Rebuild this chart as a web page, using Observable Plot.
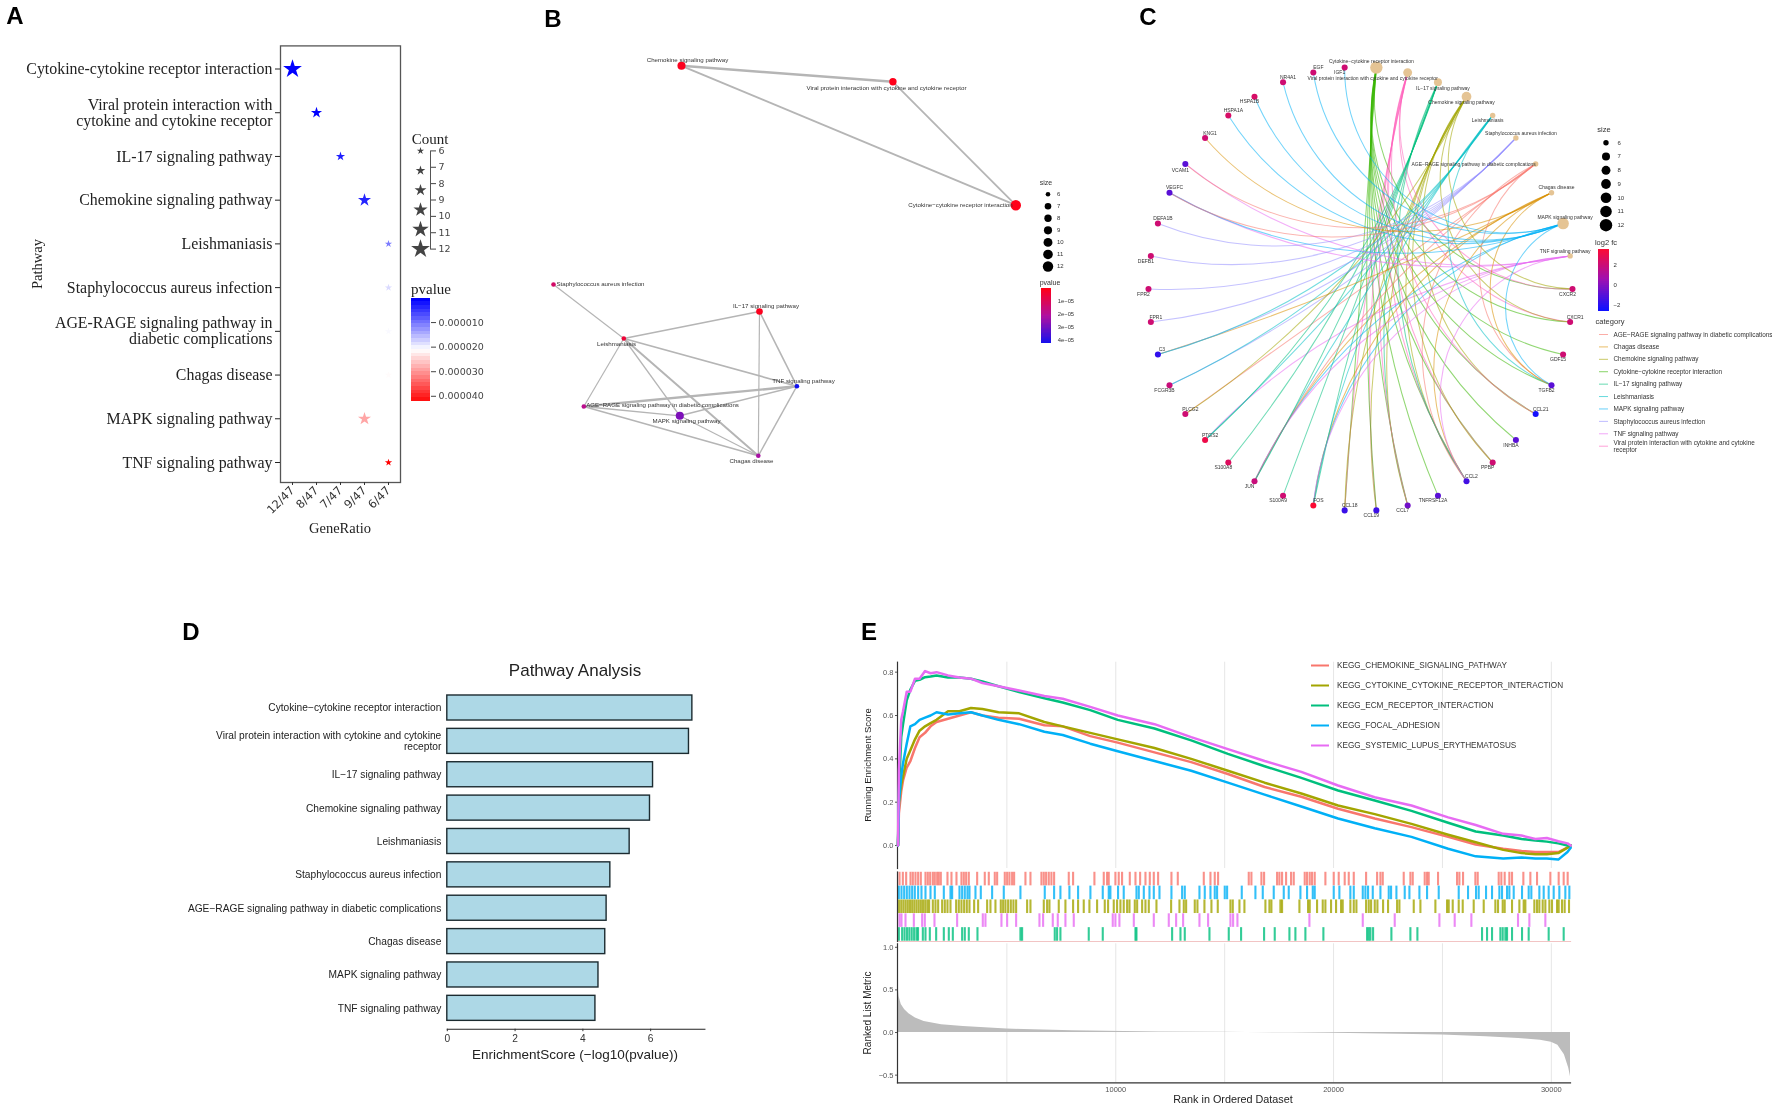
<!DOCTYPE html>
<html><head><meta charset="utf-8">
<script src="https://cdn.jsdelivr.net/npm/d3@7"></script>
<script src="https://cdn.jsdelivr.net/npm/@observablehq/plot@0.6"></script>
<style>
html,body{margin:0;padding:0;background:#fff}
#page{position:relative;width:1772px;height:1118px;overflow:hidden;filter:blur(.45px)}
.t{position:absolute;white-space:nowrap;transform:translate(-50%,-50%);color:#222}
</style></head><body><div id="page"></div>
<script>
// ---------- shared categories ----------
const pathways = ["Cytokine-cytokine receptor interaction","Viral protein interaction with cytokine and cytokine receptor","IL-17 signaling pathway","Chemokine signaling pathway","Leishmaniasis","Staphylococcus aureus infection","AGE-RAGE signaling pathway in diabetic complications","Chagas disease","MAPK signaling pathway","TNF signaling pathway"];
// ---------- panel A ----------
const dotLabels = ["Cytokine-cytokine receptor interaction","Viral protein interaction with\ncytokine and cytokine receptor","IL-17 signaling pathway","Chemokine signaling pathway","Leishmaniasis","Staphylococcus aureus infection","AGE-RAGE signaling pathway in\ndiabetic complications","Chagas disease","MAPK signaling pathway","TNF signaling pathway"];
const geneRatio = ["12/47","8/47","7/47","9/47","6/47","6/47","6/47","6/47","9/47","6/47"];
const ratioOrder = ["12/47","8/47","7/47","9/47","6/47"];
const counts = [12,8,7,9,6,6,6,6,9,6];
const dotPvalue = [5.9e-8,7.4e-8,2.5e-6,3e-6,1e-5,1.75e-5,2e-5,2.08e-5,2.8e-5,4.2e-5];
const countTicks = [6,7,8,9,10,11,12];
const countStars = [6,7.2,8.4,9.6,10.8,12];
const pTicks = [1e-5,2e-5,3e-5,4e-5];
// ---------- panel B ----------
const netNames = ["Chemokine signaling pathway","Viral protein interaction with cytokine and cytokine receptor","Cytokine\u2212cytokine receptor interaction","Staphylococcus aureus infection","IL\u221217 signaling pathway","Leishmaniasis","TNF signaling pathway","AGE\u2212RAGE signaling pathway in diabetic complications","MAPK signaling pathway","Chagas disease"];
const netX = [681,892.4,1015.3,553,759,623.3,796.4,583.3,679.3,757.8];
const netY = [65.3,81.3,204.7,284,311,338,385.7,406,415.3,455.3];
const netLabelX = [687,886,960,600,765.5,616,803,662,686,751];
const netLabelY = [59.7,87.7,205,284,305.3,343.3,380.3,404.3,421,461];
const netSize = [9,8,12,6,7,6,6,6,9,6];
const netPvalue = [1e-6,1e-7,1e-7,1.2e-5,8.5e-7,5e-6,4.3e-5,1.8e-5,2.8e-5,2.2e-5];
const edgeFrom = [0,0,1,3,5,5,5,5,5,4,4,6,6,6,7,7,8];
const edgeTo   = [1,2,2,5,4,6,7,8,9,6,9,7,8,9,8,9,9];
const edgeWidth= [2.6,2,1.8,1.2,1.6,1.7,1.2,1.3,2,1.6,1.2,2.4,1.5,1.4,1.3,1.5,1.2];
const sizeTicks = [6,7,8,9,10,11,12];
// ---------- panel C ----------
const cnetCategories = ["Cytokine\u2212cytokine receptor interaction","Viral protein interaction with cytokine and cytokine receptor","IL\u221217 signaling pathway","Chemokine signaling pathway","Leishmaniasis","Staphylococcus aureus infection","AGE\u2212RAGE signaling pathway in diabetic complications","Chagas disease","MAPK signaling pathway","TNF signaling pathway"];
const cnetSizes = [12,8,7,9,6,6,6,6,11,6];
const genes = ["CXCR2","CXCR1","GDF15","TGFB2","CCL21","INHBA","PPBP","CCL2","TNFRSF12A","CCL7","CCL19","CCL18","FOS","S100A9","JUN","S100A8","PTGS2","PLCG2","FCGR3B","C3","FPR1","FPR2","DEFB1","DEFA1B","VEGFC","VCAM1","KNG1","HSPA1A","HSPA1B","NR4A1","EGF","IGF1"];
const geneFc = [2,2,2,-1,-2.5,-1,2,-1.5,-1,-.5,-1.6,-1.7,3.5,2,1.8,2.5,3,2,1.8,-1.9,2,2,2,2,-1,-1,2,2.3,2.3,2,2,2];
const membership = {
  "Cytokine\u2212cytokine receptor interaction":["CCL2","CCL7","CCL18","CCL19","CCL21","CXCR1","CXCR2","PPBP","GDF15","INHBA","TGFB2","TNFRSF12A"],
  "Viral protein interaction with cytokine and cytokine receptor":["CCL2","CCL7","CCL18","CCL19","CCL21","CXCR1","CXCR2","PPBP"],
  "IL\u221217 signaling pathway":["S100A8","S100A9","FOS","JUN","PTGS2","CCL2","CCL7"],
  "Chemokine signaling pathway":["CCL2","CCL7","CCL18","CCL19","CCL21","CXCR1","CXCR2","PPBP","PLCG2"],
  "Leishmaniasis":["FOS","JUN","PTGS2","FCGR3B","C3","TGFB2"],
  "Staphylococcus aureus infection":["C3","FCGR3B","FPR1","FPR2","DEFB1","DEFA1B"],
  "AGE\u2212RAGE signaling pathway in diabetic complications":["CCL2","JUN","TGFB2","VCAM1","VEGFC","PLCG2"],
  "Chagas disease":["C3","CCL2","FOS","JUN","TGFB2","KNG1"],
  "MAPK signaling pathway":["EGF","IGF1","NR4A1","HSPA1A","HSPA1B","VEGFC","FOS","JUN","TGFB2"],
  "TNF signaling pathway":["CCL2","FOS","JUN","PTGS2","VCAM1","VEGFC"]
};
const legendOrder = ["AGE\u2212RAGE signaling pathway in diabetic complications","Chagas disease","Chemokine signaling pathway","Cytokine\u2212cytokine receptor interaction","IL\u221217 signaling pathway","Leishmaniasis","MAPK signaling pathway","Staphylococcus aureus infection","TNF signaling pathway","Viral protein interaction with cytokine and cytokine receptor"];
const legendText = {"Viral protein interaction with cytokine and cytokine receptor":"Viral protein interaction with cytokine and cytokine\nreceptor"};
const hueColors = ["#F8766D","#D89000","#A3A500","#39B600","#00BF7D","#00BFC4","#00B0F6","#9590FF","#E76BF3","#FF62BC"];
const fcTicks = [-2,0,2];
// label nudges (pixels) around the ring, node order: categories then genes
const nudgeX = [-5,-35,5,-5,-5,5,-62,5,2,-5, -5,5,-5,-5,5,-5,-5,5,-5,-5,-5,5,5,-5,-5,-5,5,5,-5,4,5,-5,-5,5,5,-5,5,5,-5,5,5,-5];
const nudgeY = [-6,6,6,6,5,-5,0,-5,-6,-5, 5,-5,5,5,-5,5,5,-5,5,5,5,-5,-5,5,5,5,-5,-5,5,-5,-5,5,5,-5,-5,6,-5,-5,5,-5,-5,5];
// ---------- panel D ----------
const barLabels = ["Cytokine\u2212cytokine receptor interaction","Viral protein interaction with cytokine and cytokine\nreceptor","IL\u221217 signaling pathway","Chemokine signaling pathway","Leishmaniasis","Staphylococcus aureus infection","AGE\u2212RAGE signaling pathway in diabetic complications","Chagas disease","MAPK signaling pathway","TNF signaling pathway"];
const enrichment = [7.23,7.13,6.07,5.98,5.38,4.81,4.70,4.66,4.46,4.37];
// ---------- panel E ----------
const geneSets = ["KEGG_CHEMOKINE_SIGNALING_PATHWAY","KEGG_CYTOKINE_CYTOKINE_RECEPTOR_INTERACTION","KEGG_ECM_RECEPTOR_INTERACTION","KEGG_FOCAL_ADHESION","KEGG_SYSTEMIC_LUPUS_ERYTHEMATOSUS"];
const setColors = ["#F8766D","#A3A500","#00BF7D","#00B0F6","#E76BF3"];
const esRank = [0,42,148,232,400,569,780,990,1243,1496,1770,2297,2824,3350,3877,4614,5562,6721,7564,8828,10092,11778,13463,15149,16834,18520,20206,21891,23577,25262,26527,27791,28634,29266,29793,30320,30741,30889];
const esChemokine = [0,.15,.25,.30,.36,.39,.45,.50,.52,.55,.57,.585,.60,.615,.60,.59,.585,.555,.55,.505,.475,.43,.385,.33,.27,.225,.17,.125,.085,.04,.005,-.015,-.025,-.03,-.03,-.03,-.01,0];
const esCytokine = [0,.2,.28,.32,.40,.44,.49,.53,.55,.565,.58,.62,.62,.635,.63,.615,.61,.57,.55,.52,.49,.45,.40,.345,.29,.24,.185,.145,.10,.05,.015,-.02,-.035,-.04,-.04,-.035,-.01,0];
const esEcm = [0,.25,.50,.56,.67,.72,.76,.765,.777,.78,.785,.775,.775,.77,.757,.735,.708,.68,.66,.625,.58,.54,.485,.423,.366,.312,.254,.208,.16,.105,.065,.046,.03,.023,.018,.01,0,0];
const esFocal = [0,.2,.32,.38,.47,.55,.56,.58,.59,.60,.615,.605,.61,.615,.60,.58,.56,.525,.51,.47,.435,.39,.345,.29,.235,.18,.125,.08,.04,-.015,-.05,-.06,-.055,-.06,-.06,-.065,-.03,-.01];
const esLupus = [0,.35,.58,.62,.71,.71,.77,.77,.805,.795,.80,.785,.775,.77,.75,.735,.715,.69,.677,.64,.60,.56,.50,.445,.39,.34,.277,.223,.185,.13,.095,.054,.046,.03,.035,.02,.01,0];
const hitsChemokine = [69,222,375,574,681,803,925,1048,1262,1369,1476,1599,1690,1798,1874,1966,2272,2455,2685,2914,3022,3129,3251,3634,3985,4169,4444,4552,4903,5011,5118,5240,5332,5852,6082,6586,6694,6801,6923,7045,7168,7841,8040,9019,9448,9601,9677,9983,10136,10289,10644,10904,11118,11363,11562,11746,11944,12556,12847,14041,14347,14545,14698,16106,16228,16687,16810,17407,17514,17636,17820,18049,18172,18676,18784,18906,19013,19135,19625,20008,20237,20512,20698,20928,21494,22000,22152,22259,23222,23528,23636,24186,24294,24370,24798,25670,25778,25946,26512,26619,27583,27705,27858,28073,28195,28715,29037,29343,29955,30337,30567,30750];
const hitsFocal = [38,160,283,405,528,650,772,925,1078,1262,1492,1690,2104,2410,2486,2823,2945,3067,3190,3282,3557,3802,4322,4857,5622,6739,7168,7458,7871,8269,8835,9402,9677,9753,10105,10365,10950,11057,11287,11547,11746,12006,12556,13046,13168,13842,14086,14347,14545,14652,15004,15112,15785,16412,16749,17253,17713,17942,18478,18784,19045,19135,20008,20267,20772,20928,21341,21463,21585,21800,22152,22534,22641,22886,23268,23483,23942,24294,24829,25747,26175,26543,26665,27002,27277,27614,27736,27966,28073,28272,28654,28960,29082,29450,29649,29878,30108,30367,30643,30827];
const hitsCytokine = [50,150,250,350,450,550,650,750,850,950,1050,1150,1250,1350,1430,1599,1721,1843,2027,2149,2272,2410,2670,2792,2914,3037,3159,3282,3496,3679,4093,4245,4475,4720,4827,4934,5057,5180,5301,5424,5929,6082,6694,6847,6954,7382,7688,8040,8269,8529,8789,9142,9494,9647,9907,10060,10213,10365,10521,10629,10873,10981,11210,11363,11516,11868,12541,12924,13123,13230,13627,13750,14071,14392,14683,15265,15372,15678,15907,16871,17055,17146,17559,17636,18432,18829,18906,19243,19503,19625,19885,20115,20344,20421,20772,20928,21050,21494,21616,21723,21892,22014,22274,22503,22917,23024,23682,23988,24676,25212,25288,25472,25747,25931,26435,26895,27430,27552,27767,27858,28195,28532,28730,28807,29220,29343,29450,29603,29725,29909,30031,30261,30337,30490,30612,30812];
const hitsLupus = [69,160,344,727,1109,1231,1675,2715,3894,4016,4750,5011,5424,6495,6663,7107,7336,7688,8071,9861,9983,10167,10828,11746,12434,12771,13092,13842,14239,15265,15387,15586,18891,21341,22809,24860,25563,26328,28470,28991,29725];
const hitsEcm = [40,190,300,410,520,630,740,850,920,1140,1262,1461,1752,2104,2333,2517,2945,3067,3251,3649,5622,5699,7198,7305,7458,8759,9402,10904,10950,12587,12970,13168,14301,15188,15754,16810,17299,17973,18248,18707,19533,21540,21616,21693,21815,22656,23528,23850,26818,27048,27277,27660,27767,27889,27966,28195,28654,28960,29878,30567];
const metricRank = [0,50,150,300,500,800,1200,2000,3000,5000,8000,12000,15000,16000,18000,20000,23000,25000,27000,28500,29500,30000,30300,30600,30800,30880];
const metricValue = [.55,.42,.33,.27,.22,.17,.13,.09,.07,.04,.02,.005,.002,0,-.003,-.01,-.02,-.03,-.05,-.07,-.09,-.115,-.15,-.26,-.42,-.52];

// ---------- helpers ----------
const W = 1772, H = 1118, page = document.getElementById("page");
function panel(x0,y0,x1,y1,font,size,opts){
  const p = Plot.plot({width:W,height:H,marginLeft:x0,marginRight:W-x1,marginTop:y0,marginBottom:H-y1,
    style:{position:"absolute",left:"0",top:"0",background:"transparent","max-width":"none","font-family":font,"font-size":size+"px",color:"#222"},...opts});
  page.appendChild(p); return p;
}
function label(text,x,y,css){
  const d=document.createElement("div");d.className="t";d.textContent=text;
  d.style.left=x+"px";d.style.top=y+"px";d.style.cssText+=";"+css;page.appendChild(d);
}
const SERIF='"Liberation Serif",serif', SANS='"Liberation Sans",sans-serif', DEJA='"DejaVu Sans",sans-serif';

// ---------- A ----------
const aRows = pathways.map((p,i)=>({p,ratio:geneRatio[i],count:counts[i],pv:dotPvalue[i]}));
const rScale = {type:"linear",domain:[6,12],range:[2.3,5.9]};
const pColor = {type:"linear",domain:[0,2.05e-5,4.2e-5],range:["#0000ff","#ffffff","#ff0000"],clamp:true};
panel(280,45.4,400,482,SERIF,15.9,{
  x:{type:"point",domain:ratioOrder,padding:0,round:false,range:[292,388],axis:null},
  y:{type:"point",domain:pathways,padding:0,round:false,range:[68.5,462],axis:null},
  r:rScale,color:pColor,
  marks:[
    Plot.frame({stroke:"#555",strokeWidth:1.3}),
    Plot.axisY({tickFormat:d=>dotLabels[pathways.indexOf(d)],tickSize:5,tickPadding:3,color:"#222",label:null,lineHeight:1}),
    Plot.axisX({tickRotate:-45,tickSize:3,tickPadding:3,color:"#333",label:null,fontFamily:DEJA,fontSize:11.5}),
    Plot.dot(aRows,{x:"ratio",y:"p",r:"count",symbol:"star",fill:"pv"})
  ]});
panel(410,150.4,430,248.6,DEJA,9.5,{
  x:{domain:[0,1],axis:null},y:{domain:[6,12],range:[150.4,248.6],axis:null},r:rScale,
  marks:[Plot.dot(countStars,{y:d=>d,r:d=>d,symbol:"star",fill:"#444"}),
    Plot.frame({anchor:"right",stroke:"#555"}),
    Plot.axisY({anchor:"right",ticks:countTicks,tickFormat:d=>d,tickSize:5,tickPadding:3,color:"#444",label:null})]});
panel(410.7,297.5,430,400.7,DEJA,9.5,{
  y:{domain:[0,4.2e-5],range:[297.5,400.7],axis:null},x:{axis:null},color:pColor,
  marks:[Plot.barY(d3.range(0,4.2e-5,1.5e-6),{y1:d=>d,y2:d=>d+1.5e-6,fill:d=>d,shapeRendering:"crispEdges"}),
    Plot.axisY({anchor:"right",ticks:pTicks,tickFormat:d3.format(".6f"),tickSize:5,tickPadding:3,color:"#444",label:null})]});
label("Count",430,138.6,`font:15px ${SERIF}`);
label("pvalue",431,288.6,`font:15px ${SERIF}`);
label("GeneRatio",340,528,`font:14.5px ${SERIF}`);
label("Pathway",37,263.6,`font:14.5px ${SERIF};transform:translate(-50%,-50%) rotate(-90deg)`);

// ---------- B ----------
const netNodes = netNames.map((name,i)=>({name,x:netX[i],y:netY[i],lx:netLabelX[i],ly:netLabelY[i],size:netSize[i],pv:netPvalue[i]}));
const netEdges = edgeFrom.map((f,i)=>({a:netNodes[f],b:netNodes[edgeTo[i]],w:edgeWidth[i]}));
const bR = {type:"linear",domain:[6,7,12],range:[2.3,3.3,5.2]};
const bColor = {type:"linear",domain:[0,2.1e-5,4.3e-5],range:["#ff0018","#b010a0","#1010f0"],clamp:true};
panel(540,50,1070,470,SANS,6.15,{
  x:{domain:[540,1070],axis:null},y:{domain:[50,470],range:[50,470],axis:null},r:bR,color:bColor,
  marks:[
    Plot.link(netEdges,{x1:d=>d.a.x,y1:d=>d.a.y,x2:d=>d.b.x,y2:d=>d.b.y,stroke:"#b5b5b5",strokeWidth:"w"}),
    Plot.dot(netNodes,{x:"x",y:"y",r:"size",fill:"pv"}),
    Plot.text(netNodes,{x:"lx",y:"ly",text:"name",fill:"#333"})
  ]});
panel(1041,193.7,1054,266,SANS,6,{
  y:{type:"point",domain:sizeTicks,padding:0,round:false,axis:null},x:{axis:null},r:bR,
  marks:[Plot.dot(sizeTicks,{y:d=>d,r:d=>d,fill:"#000"}),
    Plot.axisY({anchor:"right",tickSize:0,tickPadding:2.5,color:"#333",label:null})]});
panel(1041,288.3,1051.3,342.7,SANS,5.8,{
  y:{domain:[0,4.26e-5],range:[288.3,342.7],axis:null},x:{axis:null},color:bColor,
  marks:[Plot.barY(d3.range(0,4.26e-5,1e-6),{y1:d=>d,y2:d=>d+1e-6,fill:d=>d,shapeRendering:"crispEdges"}),
    Plot.axisY({anchor:"right",ticks:pTicks,tickFormat:d=>d3.format(".0e")(d).replace("e-5","e\u221205").replace("\u22125","\u221205"),tickSize:0,tickPadding:6,color:"#333",label:null})]});
label("size",1046,182,`font:7px ${SANS};color:#333`);
label("pvalue",1050,281.7,`font:7px ${SANS};color:#333`);

// ---------- C ----------
const ringNames = [...cnetCategories,...genes];
const ringStep = 2*Math.PI/ringNames.length;
const ring = ringNames.map((name,i)=>{
  const a=(i+.5)*ringStep;
  return {name,i,x:Math.sin(a),y:-Math.cos(a),
    lx:Math.sin(a)+nudgeX[i]/212,ly:-Math.cos(a)+nudgeY[i]/222,
    size:i<cnetCategories.length?cnetSizes[i]:null,fc:i<cnetCategories.length?null:geneFc[i-cnetCategories.length]};
});
const byName = new Map(ring.map(d=>[d.name,d]));
const hue = new Map(legendOrder.map((c,i)=>[c,hueColors[i]]));
const arcs = [];
for (const c of cnetCategories) for (const g of membership[c]) {
  const s=byName.get(g), e=byName.get(c);
  const dx=e.x-s.x, dy=e.y-s.y;
  const mx=(s.x+e.x)/2, my=(s.y+e.y)/2;
  const side=(dy*-mx + -dx*-my)>=0?1:-1;
  const dist=Math.hypot(mx,my);
  const bend=Math.min(85,Math.round(dist*70/5)*5)*side;
  arcs.push({s,e,bend,color:hue.get(c)});
}
const cR = {type:"linear",domain:[6,7,12],range:[2.7,4,6.2]};
const cColor = {type:"linear",domain:[-2.6,.5,3.6],range:["#1010ff","#a010b0","#ff0a30"],clamp:true};
panel(1148,66.5,1572,510.5,SANS,5,{
  x:{domain:[-1,1],axis:null},y:{domain:[-1,1],range:[66.5,510.5],axis:null},r:cR,color:cColor,
  marks:[
    ...d3.groups(arcs,d=>d.bend).map(([b,rows])=>Plot.arrow(rows,{x1:d=>d.s.x,y1:d=>d.s.y,x2:d=>d.e.x,y2:d=>d.e.y,bend:b,headLength:0,
      stroke:{value:d=>d.color,scale:null},strokeWidth:1.05,strokeOpacity:.55})),
    Plot.dot(ring.filter(d=>d.size),{x:"x",y:"y",r:"size",fill:"#E5C494"}),
    Plot.dot(ring.filter(d=>d.fc!==null),{x:"x",y:"y",r:()=>6.25,fill:"fc"}),
    Plot.text(ring,{x:"lx",y:"ly",text:"name",fill:"#333"})
  ]});
panel(1599,142.3,1612,224.7,SANS,6,{
  y:{type:"point",domain:sizeTicks,padding:0,round:false,range:[142.3,224.7],axis:null},x:{axis:null},r:cR,
  marks:[Plot.dot(sizeTicks,{y:d=>d,r:d=>d,fill:"#000"}),
    Plot.axisY({anchor:"right",tickSize:0,tickPadding:5,color:"#333",label:null})]});
panel(1598,249,1609,311,SANS,6,{
  y:{domain:[3.6,-2.6],range:[249,311],axis:null},x:{axis:null},color:cColor,
  marks:[Plot.barY(d3.range(-2.6,3.6,.2),{y1:d=>d,y2:d=>d+.2,fill:d=>d,shapeRendering:"crispEdges"}),
    Plot.axisY({anchor:"right",ticks:fcTicks,tickFormat:d3.format("d"),tickSize:0,tickPadding:4,color:"#333",label:null})]});
panel(1599,334,1608,445.7,SANS,6.4,{
  y:{type:"point",domain:legendOrder,padding:0,round:false,axis:null},x:{axis:null},
  marks:[Plot.ruleY(legendOrder,{y:d=>d,stroke:{value:d=>hue.get(d),scale:null},strokeOpacity:.6,strokeWidth:1}),
    Plot.axisY({anchor:"right",tickFormat:d=>legendText[d]||d,tickSize:0,tickPadding:5,color:"#333",label:null,lineHeight:1.05})]});
label("size",1604,129,`font:7.5px ${SANS};color:#333`);
label("log2 fc",1606,242,`font:7.5px ${SANS};color:#333`);
label("category",1610,321,`font:7.5px ${SANS};color:#333`);

// ---------- D ----------
const dRows = barLabels.map((p,i)=>({p,v:enrichment[i]}));
panel(446.8,686.65,704.4,1028.7,SANS,10.2,{
  x:{domain:[0,7.6],axis:null},y:{type:"band",domain:barLabels,padding:.25,round:false,axis:null},
  marks:[
    Plot.barX(dRows,{x:"v",y:"p",fill:"#ADD8E6",stroke:"#1c2b30",strokeWidth:1.4}),
    Plot.axisY({tickSize:0,tickPadding:6,color:"#222",label:null,lineHeight:1.05}),
    Plot.frame({anchor:"bottom",stroke:"#222",strokeWidth:1.1}),
    Plot.axisX({ticks:[0,2,4,6],tickSize:2.5,tickPadding:3,color:"#333",label:null})
  ]});
label("Pathway Analysis",575,671,`font:17px ${SANS}`);
label("EnrichmentScore (\u2212log10(pvalue))",575,1053.7,`font:13.5px ${SANS}`);

// ---------- E ----------
const esSeries = [esChemokine,esCytokine,esEcm,esFocal,esLupus];
const esLong = esSeries.flatMap((vals,k)=>vals.map((v,i)=>({set:geneSets[k],rank:esRank[i],v})));
const setColor = {type:"ordinal",domain:geneSets,range:setColors};
const rankX = {domain:[0,30880],range:[897.5,1570],axis:null};
const gridRanks = d3.range(5000,30001,5000);
panel(897,661.7,1570,868,SANS,7.5,{
  x:rankX,y:{domain:[-.106,.846],axis:null},color:setColor,
  marks:[
    Plot.gridX(gridRanks,{stroke:"#e6e6e6",strokeOpacity:1}),
    Plot.frame({anchor:"left",stroke:"#333",strokeWidth:1.2}),
    Plot.axisY({ticks:[0,.2,.4,.6,.8],tickFormat:d3.format(".1f"),tickSize:2,tickPadding:2,color:"#555",label:null}),
    Plot.line(esLong,{x:"rank",y:"v",z:"set",stroke:"set",strokeWidth:2.5})
  ]});
panel(1311,665,1329,745,SANS,8.2,{
  y:{type:"point",domain:geneSets,padding:0,round:false,axis:null},x:{axis:null},color:setColor,
  marks:[Plot.ruleY(geneSets,{y:d=>d,stroke:d=>d,strokeWidth:2}),
    Plot.axisY({anchor:"right",tickSize:0,tickPadding:7.5,color:"#333",label:null})]});
const hitSets = [["a",hitsChemokine,"#F8766D"],["b",hitsFocal,"#00B0F6"],["c",hitsCytokine,"#A3A500"],["d",hitsLupus,"#E76BF3"],["e",hitsEcm,"#00BF7D"]];
const hitRows = hitSets.flatMap(([row,ranks,c])=>ranks.map(rank=>({row,rank,c})));
panel(897,871.5,1570,941,SANS,7.5,{
  x:rankX,y:{type:"band",domain:hitSets.map(d=>d[0]),padding:.02,round:false,axis:null},
  marks:[
    Plot.tickX(hitRows,{x:"rank",y:"row",stroke:{value:"c",scale:null},strokeWidth:2.1,strokeOpacity:.8}),
    Plot.frame({anchor:"bottom",stroke:"#f2c4c4",strokeWidth:1.2}),
    Plot.frame({anchor:"left",stroke:"#333",strokeWidth:1.2})
  ]});
const metric = metricRank.map((rank,i)=>({rank,v:metricValue[i]}));
panel(897,943.3,1570,1082.3,SANS,7.5,{
  x:rankX,y:{domain:[-.59,1.041],axis:null},
  marks:[
    Plot.gridX(gridRanks,{stroke:"#e6e6e6",strokeOpacity:1}),
    Plot.areaY(metric,{x:"rank",y:"v",fill:"#bcbcbc"}),
    Plot.frame({anchor:"left",stroke:"#333",strokeWidth:1.2}),
    Plot.frame({anchor:"bottom",stroke:"#333",strokeWidth:1.2}),
    Plot.axisY({ticks:[-.5,0,.5,1],tickFormat:d3.format(".1f"),tickSize:2,tickPadding:2,color:"#555",label:null}),
    Plot.axisX({ticks:[10000,20000,30000],tickFormat:d3.format("d"),tickSize:0,tickPadding:4,color:"#555",label:null})
  ]});
label("Running Enrichment Score",867,765,`font:9.5px ${SANS};transform:translate(-50%,-50%) rotate(-90deg)`);
label("Ranked List Metric",867,1013,`font:10px ${SANS};transform:translate(-50%,-50%) rotate(-90deg)`);
label("Rank in Ordered Dataset",1233,1099.3,`font:10.8px ${SANS}`);

// ---------- panel letters ----------
label("A",15,16,`font:bold 24px ${SANS};color:#000`);
label("B",553,19,`font:bold 24px ${SANS};color:#000`);
label("C",1148,17,`font:bold 24px ${SANS};color:#000`);
label("D",191,632,`font:bold 24px ${SANS};color:#000`);
label("E",869,632,`font:bold 24px ${SANS};color:#000`);
</script></body></html>
